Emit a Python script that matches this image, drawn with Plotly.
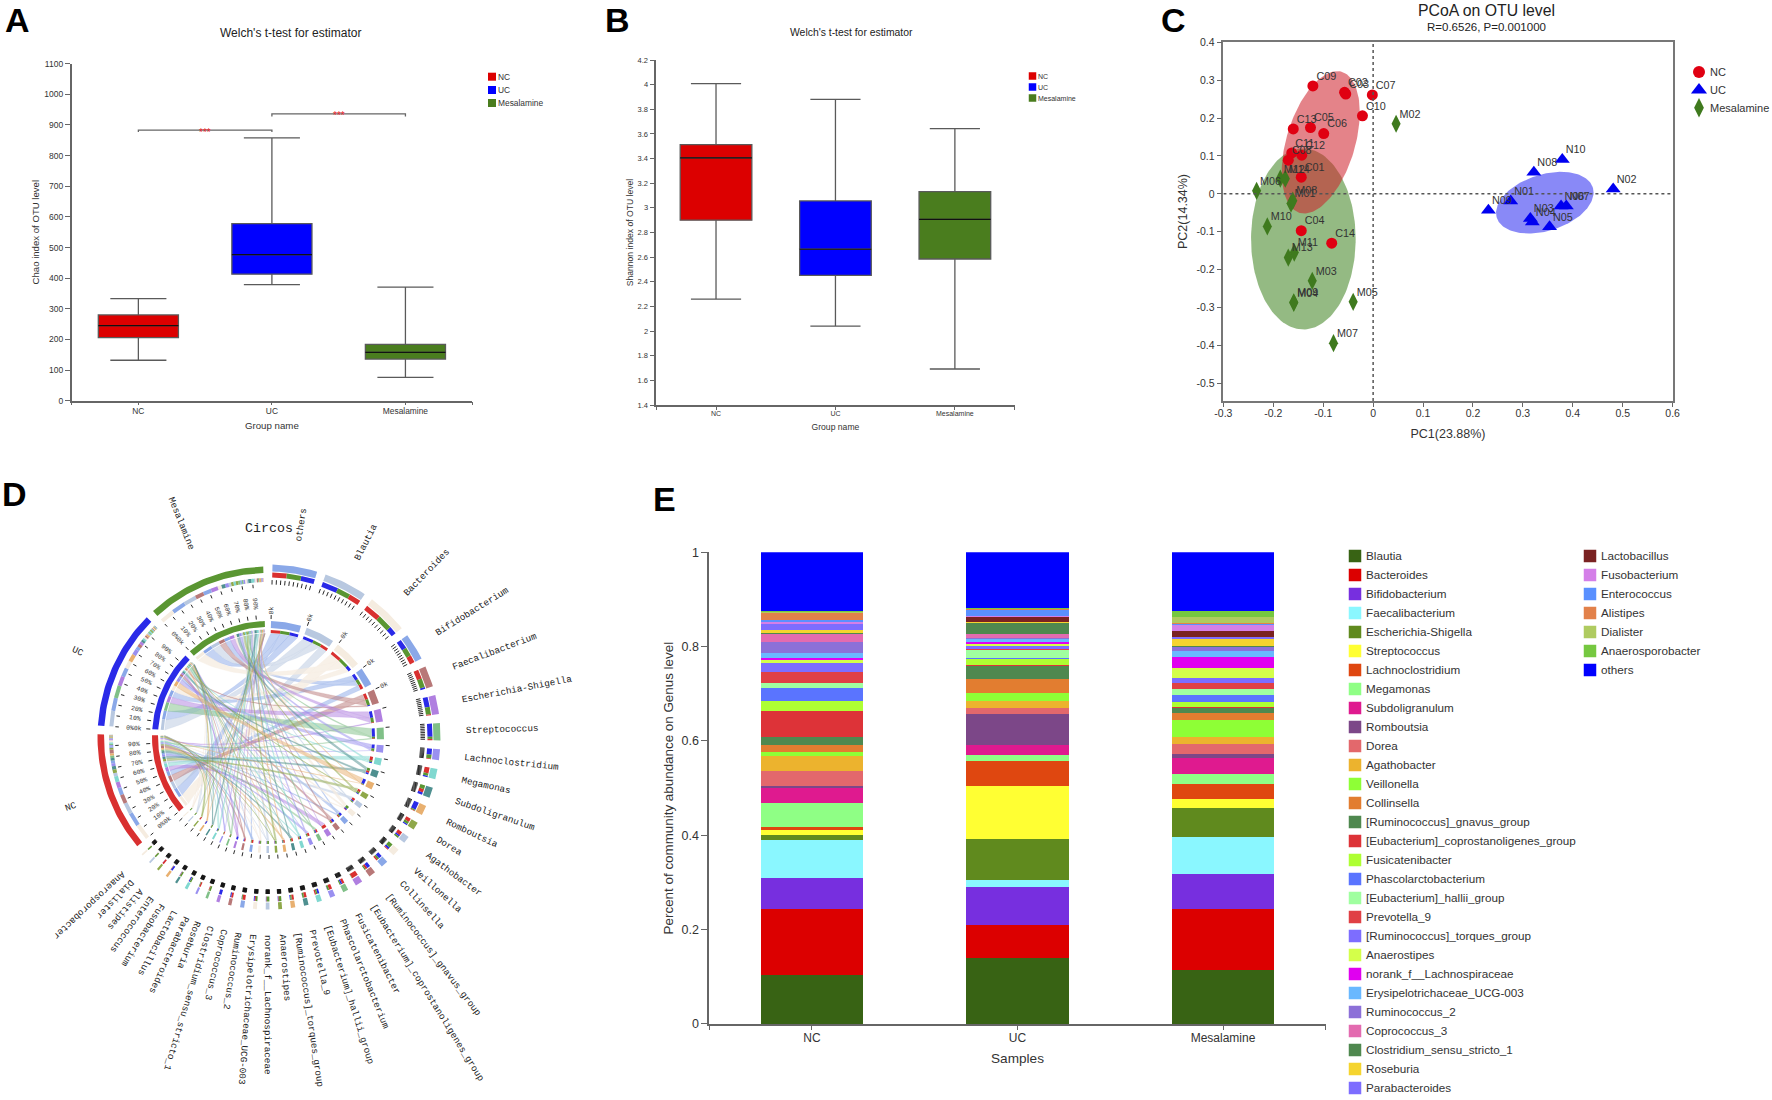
import numpy as np
import plotly.graph_objects as go

W, H = 1772, 1100

# ---------- Panels A / B : boxplots ----------
groups = ["NC", "UC", "Mesalamine"]
group_colors = ["#dc0000", "#0000ff", "#4a7d1e"]
chao_low = [132, 379, 76]
chao_q1 = [206, 413, 136]
chao_med = [245, 477, 158]
chao_q3 = [280, 578, 184]
chao_high = [333, 858, 371]
chao_ticks = list(range(0, 1101, 100))
shannon_low = [2.26, 2.04, 1.692]
shannon_q1 = [2.90, 2.452, 2.585]
shannon_med = [3.405, 2.664, 2.907]
shannon_q3 = [3.513, 3.056, 3.132]
shannon_high = [4.008, 3.88, 3.643]
shannon_ticks = [1.4, 1.6, 1.8, 2, 2.2, 2.4, 2.6, 2.8, 3, 3.2, 3.4, 3.6, 3.8, 4, 4.2]
shannon_ticktext = ["1.4", "1.6", "1.8", "2", "2.2", "2.4", "2.6", "2.8", "3", "3.2", "3.4", "3.6", "3.8", "4", "4.2"]

# ---------- Panel C : PCoA ----------
nc_x = [-0.144, -0.0572, -0.0548, -0.144, -0.1255, -0.099, -0.0016, -0.170, -0.1207, -0.0214, -0.163, -0.143, -0.160, -0.083]
nc_y = [0.044, 0.268, 0.2635, -0.097, 0.175, 0.159, 0.261, 0.089, 0.285, 0.206, 0.108, 0.102, 0.1715, -0.130]
uc_x = [0.2756, 0.481, 0.315, 0.319, 0.3535, 0.3765, 0.387, 0.322, 0.231, 0.379]
uc_y = [-0.019, 0.013, -0.065, -0.074, -0.087, -0.032, -0.032, 0.057, -0.043, 0.0906]
mes_x = [-0.1645, 0.046, -0.122, -0.159, -0.040, -0.2335, -0.0794, -0.161, -0.159, -0.212, -0.158, -0.186, -0.170, -0.176]
mes_y = [-0.0255, 0.185, -0.2295, -0.2875, -0.285, 0.008, -0.394, -0.018, -0.286, -0.086, -0.155, 0.040, -0.168, 0.040]
nc_names = [f"C{i:02d}" for i in range(1, 15)]
uc_names = [f"N{i:02d}" for i in range(1, 11)]
mes_names = [f"M{i:02d}" for i in range(1, 15)]
pc1_ticks = [-0.3, -0.2, -0.1, 0, 0.1, 0.2, 0.3, 0.4, 0.5, 0.6]
pc1_ticktext = ["-0.3", "-0.2", "-0.1", "0", "0.1", "0.2", "0.3", "0.4", "0.5", "0.6"]
pc2_ticks = [-0.5, -0.4, -0.3, -0.2, -0.1, 0, 0.1, 0.2, 0.3, 0.4]
pc2_ticktext = ["-0.5", "-0.4", "-0.3", "-0.2", "-0.1", "0", "0.1", "0.2", "0.3", "0.4"]
# ellipse: centre x, centre y, half extent x, half extent y, x-y correlation
ell_mes = (-0.1398, -0.119, 0.1048, 0.2388, 0.0)
ell_nc = (-0.105, 0.136, 0.0782, 0.1878, 0.42)
ell_uc = (0.344, -0.0233, 0.0977, 0.0814, 0.33)

# ---------- Panel E : community composition ----------
genera = ["Blautia", "Bacteroides", "Bifidobacterium", "Faecalibacterium", "Escherichia-Shigella",
          "Streptococcus", "Lachnoclostridium", "Megamonas", "Subdoligranulum", "Romboutsia", "Dorea",
          "Agathobacter", "Veillonella", "Collinsella", "[Ruminococcus]_gnavus_group",
          "[Eubacterium]_coprostanoligenes_group", "Fusicatenibacter", "Phascolarctobacterium",
          "[Eubacterium]_hallii_group", "Prevotella_9", "[Ruminococcus]_torques_group", "Anaerostipes",
          "norank_f__Lachnospiraceae", "Erysipelotrichaceae_UCG-003", "Ruminococcus_2", "Coprococcus_3",
          "Clostridium_sensu_stricto_1", "Roseburia", "Parabacteroides", "Lactobacillus", "Fusobacterium",
          "Enterococcus", "Alistipes", "Dialister", "Anaerosporobacter", "others"]
genus_colors = ["#386314", "#dc0000", "#772fdf", "#8af7ff", "#608a1e", "#ffff33", "#df4710", "#8fff85",
                "#df1a8f", "#7c4788", "#e3686c", "#ecb32e", "#8eff36", "#e27d30", "#4f884f", "#dd3338",
                "#aeff33", "#5a74ff", "#a0ffa0", "#e04045", "#7d6dff", "#d4ff4a", "#e000f0", "#69b8ff",
                "#8c70d8", "#e36bb0", "#4f884f", "#f5d42f", "#7d6dff", "#7a2222", "#d47fe8", "#5a90ff",
                "#e2814a", "#afcb60", "#75c840", "#0000ff"]
# cumulative height of each stacked segment
nc_tops = [.103, .244, .310, .391, .400, .4116, .418, .469, .4996, .5055, .5365, .568, .5775, .591, .6085, .664,
           .6857, .7125, .7234, .746, .7653, .771, .7755, .786, .8106, .828, .8298, .8357, .8475, .849, .853,
           .8567, .8718, .8735, .875, 1]
uc_tops = [.140, .2087, .291, .306, .393, .5055, .5574, .570, .591, .658, .6697, .684, .7008, .7318, .760, .761,
           .7737, .776, .793, .7946, .8013, .8055, .809, .8164, .818, .8265, .851, .8517, .8525, .8625, .864,
           .8785, .880, .8805, .881, 1]
mes_tops = [.115, .244, .3185, .3956, .4585, .477, .509, .530, .5633, .5717, .5935, .6077, .6438, .6588, .6697,
            .673, .683, .6974, .710, .7234, .7334, .7544, .777, .7913, .7988, .8005, .801, .8156, .8206, .8332,
            .8466, .849, .850, .8625, .875, 1]
abundance_ticks = [0, 0.2, 0.4, 0.6, 0.8, 1]
abundance_ticktext = ["0", "0.2", "0.4", "0.6", "0.8", "1"]

# ---------- Panel D : circos palette (same order as its labels) ----------
circos_others_color = "#8aa8e8"
circos_cycle = ["#b8c8e0", "#f5ece0", "#8aa8e8", "#b87878", "#b07fe0", "#80c088", "#9a90f0", "#80d8d0",
                "#4f9090", "#e8b070", "#8fa84a"]
circos_group_colors = ["#d93030", "#2a2ae8", "#5a9632"]

SANS = "Liberation Sans, Arial, sans-serif"
MONO = "Liberation Mono, monospace"
TXT = "#333333"
AXC = "#666666"

fig = go.Figure()
annots = []


def xdom(a, b):
    return [a / W, b / W]


def ydom(top, bottom):
    return [1 - bottom / H, 1 - top / H]


def label(x, y, text, size=10, angle=0, xanchor="center", color=TXT, family=SANS):
    annots.append(dict(x=x, y=y, xref="x5", yref="y5", text=text, showarrow=False, textangle=angle,
                       xanchor=xanchor, yanchor="middle", font=dict(size=size, color=color, family=family),
                       borderpad=0, borderwidth=0))


def swatch_legend(names, colors, xs, xt, ys, size, font, lift=0.0):
    fig.add_trace(go.Scatter(x=[xs] * len(names), y=ys, mode="markers", xaxis="x5", yaxis="y5",
                             marker=dict(symbol="square", size=size, color=colors), hoverinfo="skip",
                             showlegend=False))
    for n, y in zip(names, ys):
        label(xt, y - lift, n, size=font, xanchor="left")


def boxes(lo, q1, med, q3, hi, xa, ya):
    for i, g in enumerate(groups):
        fig.add_trace(go.Box(x=[i], q1=[q1[i]], median=[med[i]], q3=[q3[i]], lowerfence=[lo[i]],
                             upperfence=[hi[i]], width=0.6, whiskerwidth=0.7, name=g, xaxis=xa, yaxis=ya,
                             fillcolor=group_colors[i], line=dict(color="#5a5a5a", width=1.3),
                             boxpoints=False, showlegend=False))
        fig.add_trace(go.Scatter(x=[i - 0.3, i + 0.3], y=[med[i], med[i]], mode="lines", xaxis=xa, yaxis=ya,
                                 line=dict(color="#111111", width=1.2), hoverinfo="skip", showlegend=False))


# --- A ---
boxes(chao_low, chao_q1, chao_med, chao_q3, chao_high, "x", "y")
fig.add_trace(go.Scatter(x=[0, 0, 1, 1, None, 1, 1, 2, 2], y=[877, 883, 883, 877, None, 928, 936, 936, 928],
                         mode="lines", line=dict(color="#666666", width=1.3), xaxis="x", yaxis="y",
                         hoverinfo="skip", showlegend=False))
annots.append(dict(x=0.5, y=877, xref="x", yref="y", text="***", showarrow=False, yanchor="middle",
                   font=dict(size=10, color="#e8222a", family=SANS)))
annots.append(dict(x=1.5, y=930, xref="x", yref="y", text="***", showarrow=False, yanchor="middle",
                   font=dict(size=10, color="#e8222a", family=SANS)))
# --- B ---
boxes(shannon_low, shannon_q1, shannon_med, shannon_q3, shannon_high, "x2", "y2")

# --- C ---
t = np.linspace(0, 2 * np.pi, 160)
for ell, col in [(ell_mes, "rgba(60,130,30,0.55)"), (ell_nc, "rgba(205,30,40,0.55)"), (ell_uc, "rgba(40,40,240,0.55)")]:
    ex = ell[0] + ell[2] * np.cos(t)
    ey = ell[1] + ell[3] * np.cos(t - np.arccos(ell[4]))
    fig.add_trace(go.Scatter(x=ex, y=ey, mode="lines", fill="toself", fillcolor=col, line=dict(width=0),
                             xaxis="x3", yaxis="y3", hoverinfo="skip", showlegend=False))
pts = [("NC", nc_x, nc_y, nc_names, "circle", 11, "#e00012"),
       ("UC", uc_x, uc_y, uc_names, "triangle-up", 13, "#0000f0"),
       ("Mesalamine", mes_x, mes_y, mes_names, "diamond-tall", 13, "#3f7a1e")]
for name, px, py, nm, sym, sz, col in pts:
    fig.add_trace(go.Scatter(x=px, y=py, mode="markers", name=name, xaxis="x3", yaxis="y3",
                             marker=dict(symbol=sym, size=sz, color=col), text=nm, hoverinfo="text",
                             showlegend=False))
    fig.add_trace(go.Scatter(x=px, y=py, mode="markers+text", xaxis="x3", yaxis="y3", text=nm,
                             textposition="top right", textfont=dict(size=10.8, color="#333333", family=SANS),
                             marker=dict(size=4, opacity=0), hoverinfo="skip", showlegend=False))

# --- E ---
nc_vals, uc_vals, mes_vals = (np.diff(v, prepend=0) for v in (nc_tops, uc_tops, mes_tops))
for i, g in enumerate(genera):
    fig.add_trace(go.Bar(x=[0, 1, 2], y=[nc_vals[i], uc_vals[i], mes_vals[i]], name=g, width=0.5,
                         marker=dict(color=genus_colors[i], line=dict(width=0)), xaxis="x4", yaxis="y4",
                         showlegend=False))

# --- D : circos built from the panel-E shares ---
CX, CY = 268.0, 737.0
SCALE, GAP, START = 40.8, 2.95, 1.5
shares = {g: {"NC": nc_vals[i], "UC": uc_vals[i], "Mesalamine": mes_vals[i]} for i, g in enumerate(genera)}
order = ["others"] + genera[:-1]
g_color = {"others": circos_others_color}
for i, g in enumerate(genera[:-1]):
    g_color[g] = circos_cycle[i % 11]
g_gcolor = dict(zip(groups, circos_group_colors))
span = {}
th = START
for g in order:
    w = sum(shares[g].values()) * SCALE
    span[g] = (th, th + w)
    th += w + GAP
for g in groups:
    span[g] = (th, th + SCALE)
    th += SCALE + GAP


def polar(theta, r):
    a = np.radians(theta)
    return CX + r * np.sin(a), CY - r * np.cos(a)


def arc_pts(a, b, r):
    n = max(2, int(abs(b - a) / 1.2) + 2)
    return [polar(v, r) for v in np.linspace(a, b, n)]


def add_poly(store, col, pts_):
    xs, ys = store.setdefault(col, ([], []))
    xs.extend([p[0] for p in pts_] + [None])
    ys.extend([p[1] for p in pts_] + [None])


def band(store, col, a, b, r0, r1):
    add_poly(store, col, arc_pts(a, b, r1) + arc_pts(b, a, r0))


# angular allocation, largest share first in both directions
gen_slot, grp_slot = {}, {}
for g in order:
    a = span[g][0]
    for grp in sorted(groups, key=lambda k: -shares[g][k]):
        w = shares[g][grp] * SCALE
        gen_slot[(g, grp)] = (a, a + w)
        a += w
for grp in groups:
    a = span[grp][0]
    for g in sorted(order, key=lambda k: -shares[k][grp]):
        w = shares[g][grp] * SCALE
        grp_slot[(g, grp)] = (a, a + w)
        a += w

R_RIB = 103.5
HUB_R = 55.0
ribbons, solids = {}, {}
for g in order:
    for grp in groups:
        a0, a1 = grp_slot[(g, grp)]
        b0, b1 = gen_slot[(g, grp)]
        mid = (span[grp][0] + span[grp][1]) / 2
        hub = np.array(polar(mid, HUB_R))
        p0, p1 = np.array(polar(a1, R_RIB)), np.array(polar(b0, R_RIB))
        q0, q1 = np.array(polar(b1, R_RIB)), np.array(polar(a0, R_RIB))
        u = np.linspace(0, 1, 30)[:, None]
        c1 = (1 - u) ** 2 * p0 + 2 * u * (1 - u) * hub + u ** 2 * p1
        c2 = (1 - u) ** 2 * q0 + 2 * u * (1 - u) * hub + u ** 2 * q1
        poly = arc_pts(a0, a1, R_RIB) + [tuple(v) for v in c1] + arc_pts(b0, b1, R_RIB) + [tuple(v) for v in c2]
        add_poly(ribbons, g_color[g], poly)

for col, (xs, ys) in ribbons.items():
    r_, g_, b_ = int(col[1:3], 16), int(col[3:5], 16), int(col[5:7], 16)
    alpha = 0.75 if col == "#f5ece0" else 0.5
    rgba = f"rgba({r_},{g_},{b_},{alpha})"
    fig.add_trace(go.Scatter(x=xs, y=ys, mode="lines", fill="toself", fillcolor=rgba, line=dict(width=0.4, color=rgba),
                             xaxis="x5", yaxis="y5", hoverinfo="skip", showlegend=False))

tick_x, tick_y = [], []


def tick(theta, r0, r1):
    x0, y0 = polar(theta, r0)
    x1, y1 = polar(theta, r1)
    tick_x.extend([x0, x1, None])
    tick_y.extend([y0, y1, None])


# genus sectors
for g in order:
    a, b = span[g]
    col = g_color[g]
    band(solids, col, a, b, 109, 116)
    band(solids, col, a, b, 165.5, 172.5)
    for grp in groups:
        s0, s1 = gen_slot[(g, grp)]
        band(solids, g_gcolor[grp], s0, s1, 104, 107)
        band(solids, g_gcolor[grp], s0, s1, 159.5, 164.5)
    tick(a, 118, 122)
    comb = max(b - a, 1.3)
    for k in range(10):
        tick(a + comb * k / 9.5, 152.5, 157)
# group sectors
for grp in groups:
    a, b = span[grp]
    col = g_gcolor[grp]
    band(solids, col, a, b, 110, 116)
    band(solids, col, a, b, 164, 170.5)
    for g in order:
        s0, s1 = grp_slot[(g, grp)]
        band(solids, g_color[g], s0, s1, 104.5, 107.5)
        band(solids, g_color[g], s0, s1, 155, 159)
    for k in range(10):
        th_k = a + (b - a) * k / 10
        tick(th_k, 118, 122)
        tick(th_k, 149.5, 153)
        xl, yl = polar(th_k, 134)
        label(xl, yl, "0%0k" if k == 0 else f"{k * 10}%", size=6.5, angle=th_k - 270, color="#333333", family=MONO)

for col, (xs, ys) in solids.items():
    fig.add_trace(go.Scatter(x=xs, y=ys, mode="lines", fill="toself", fillcolor=col, line=dict(width=0),
                             xaxis="x5", yaxis="y5", hoverinfo="skip", showlegend=False))
fig.add_trace(go.Scatter(x=tick_x, y=tick_y, mode="lines", line=dict(color="#111111", width=0.9),
                         xaxis="x5", yaxis="y5", hoverinfo="skip", showlegend=False))

CHAR = 5.56
for g in order:
    a, b = span[g]
    mid = (a + b) / 2
    xl, yl = polar(mid, 198 + len(g) * CHAR / 2)
    label(xl, yl, g, size=9.3, angle=mid - 90, color="#222222", family=MONO)
for g in order[:5]:
    a = span[g][0]
    xl, yl = polar(a, 127)
    label(xl, yl, "0k", size=6.5, angle=a - 90, color="#333333", family=MONO)
for grp in groups:
    a, b = span[grp]
    mid = (a + b) / 2
    xl, yl = polar(mid, 203 + len(grp) * CHAR / 2)
    label(xl, yl, grp, size=9.3, angle=mid - 270, color="#222222", family=MONO)
label(269, 528, "Circos", size=13.3, color="#222222", family=MONO)

# --- legends and free text, in page pixels ---
swatch_legend(groups, group_colors, 492, 497.5, [76.7, 90, 103], 8, 8.4)
swatch_legend(groups, group_colors, 1032.5, 1037.7, [76, 87, 98], 7.5, 7)
rows = [556 + 19.0 * i for i in range(29)]
swatch_legend(genera[:29], genus_colors[:29], 1355, 1365.7, rows, 12.5, 11.7, lift=1)
swatch_legend(genera[29:], genus_colors[29:], 1590, 1600.7, rows[:7], 12.5, 11.7, lift=1)

for (name, _, _, _, sym, sz, col), y in zip(pts, [72, 90, 107.7]):
    fig.add_trace(go.Scatter(x=[1699], y=[y], mode="markers", xaxis="x5", yaxis="y5", hoverinfo="skip",
                             marker=dict(symbol=sym, size=sz + 1, color=col), showlegend=False))
    label(1710, y, name, size=11, xanchor="left")

label(290, 32.7, "Welch's t-test for estimator", size=12, color="#222222")
label(851, 32, "Welch's t-test for estimator", size=10.4, color="#222222")
label(1486.5, 10.5, "PCoA on OTU level", size=15.8, color="#222222")
label(1486, 26.7, "R=0.6526, P=0.001000", size=11.5, color="#222222")
label(1183, 212, "PC2(14.34%)", size=12.5, angle=-90)
for txt_, x_, y_ in [("A", 17, 20), ("B", 617, 20), ("C", 1173, 20), ("D", 14, 494), ("E", 664, 498.6)]:
    label(x_, y_, f"<b>{txt_}</b>", size=34, color="#000000")


def cat_axis(l, r, size, title=None, titlesize=10, standoff=6, ticklen=3):
    return dict(domain=xdom(l, r), range=[-0.5, 2.5], tickmode="array", tickvals=[-0.5, 0, 1, 2, 2.5],
                ticktext=["", "NC", "UC", "Mesalamine", ""], showline=True, linecolor=AXC, linewidth=1.5,
                ticks="outside", ticklen=ticklen, tickcolor=AXC, tickwidth=1.2, showgrid=False, zeroline=False,
                ticklabelstandoff=-2, automargin=False, tickfont=dict(size=size, color=TXT, family=SANS),
                title=dict(text=title, standoff=standoff, font=dict(size=titlesize, color=TXT, family=SANS)))


def val_axis(top, bottom, rng, vals, text, size, title, titlesize, standoff=6, ticklen=5):
    return dict(domain=ydom(top, bottom), range=rng, tickmode="array", tickvals=vals, ticktext=text,
                showline=True, linecolor=AXC, linewidth=1.5, ticks="outside", ticklen=ticklen, tickcolor=AXC,
                tickwidth=1.2, showgrid=False, zeroline=False, automargin=False,
                tickfont=dict(size=size, color=TXT, family=SANS),
                title=dict(text=title, standoff=standoff, font=dict(size=titlesize, color=TXT, family=SANS)))


shapes = [dict(type="line", xref="x3", yref="y3", x0=0, x1=0, y0=-0.5466, y1=0.4,
               line=dict(color="#555555", width=1.5, dash="dot")),
          dict(type="line", xref="x3", yref="y3", x0=-0.3, x1=0.6, y0=0, y1=0,
               line=dict(color="#555555", width=1.5, dash="dot"))]

fig.update_layout(
    template="none",
    width=W, height=H, autosize=False, margin=dict(l=0, r=0, t=0, b=0, autoexpand=False), paper_bgcolor="white",
    plot_bgcolor="rgba(0,0,0,0)", barmode="stack", boxmode="overlay", showlegend=False, hovermode="closest",
    shapes=shapes, annotations=annots,
    xaxis=dict(anchor="y", **cat_axis(71.6, 472.2, 8.4, "Group name", 9.7, 7.5)),
    yaxis=dict(anchor="x", **val_axis(63.7, 400.7, [0, 1100], chao_ticks, [str(v) for v in chao_ticks], 8.5,
                                       "Chao index of OTU level", 9.6, 2.5)),
    xaxis2=dict(anchor="y2", **cat_axis(656.3, 1014.6, 7, "Group name", 8.6, 8)),
    yaxis2=dict(anchor="x2", **val_axis(60, 405, [1.4, 4.2], shannon_ticks, shannon_ticktext, 7.5,
                                         "Shannon index of OTU level", 8.6, 2.5)),
    xaxis3=dict(anchor="y3", domain=xdom(1223.4, 1672.6), range=[-0.3, 0.6], tickmode="array", tickvals=pc1_ticks,
                ticktext=pc1_ticktext, showline=True, mirror=True, linecolor="#777777", linewidth=1.5,
                ticks="outside", ticklen=4, tickcolor=AXC, showgrid=False, zeroline=False, automargin=False,
                ticklabelstandoff=-2, tickfont=dict(size=10.5, color=TXT, family=SANS),
                title=dict(text="PC1(23.88%)", standoff=11, font=dict(size=12.5, color=TXT, family=SANS))),
    yaxis3=dict(anchor="x3", domain=ydom(42.3, 401), range=[-0.5466, 0.4], tickmode="array", tickvals=pc2_ticks,
                ticktext=pc2_ticktext, showline=True, mirror=True, linecolor="#777777", linewidth=1.5,
                ticks="outside", ticklen=5, tickcolor=AXC, showgrid=False, zeroline=False, automargin=False,
                tickfont=dict(size=10.5, color=TXT, family=SANS)),
    xaxis4=dict(anchor="y4", **cat_axis(709.2, 1325.8, 12, "Samples", 13.6, 9, 4)),
    yaxis4=dict(anchor="x4", **val_axis(552.3, 1023.9, [0, 1], abundance_ticks, abundance_ticktext, 12.5,
                                         "Percent of community abundance on Genus level", 13.4, 4.5, 6)),
    xaxis5=dict(anchor="y5", domain=[0, 1], range=[0, W], visible=False, fixedrange=True, automargin=False),
    yaxis5=dict(anchor="x5", domain=[0, 1], range=[H, 0], visible=False, fixedrange=True, automargin=False),
)

fig.write_html("out.html", config={"displayModeBar": False},
               post_script="document.body.style.margin='0';document.body.style.overflow='hidden';")
